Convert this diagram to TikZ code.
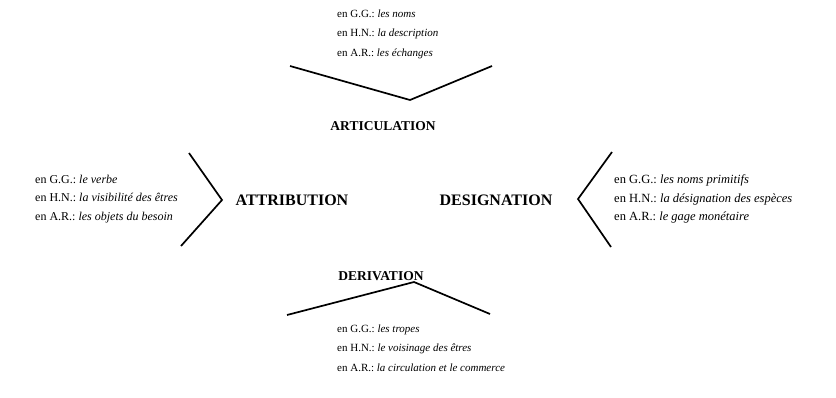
\documentclass[tikz,border=0pt]{standalone}
\usepackage{fontspec}
\setmainfont{Liberation Serif}
\begin{document}
\begin{tikzpicture}[x=1pt,y=-1pt,
    lines/.style={align=left, anchor=west, inner sep=0pt, font=\fontsize{11}{19.5}\selectfont},
    sidelines/.style={lines, font=\fontsize{12}{18.5}\selectfont},
    sidelabel/.style={inner sep=0pt, font=\fontsize{16}{18}\selectfont\bfseries},
    axislabel/.style={inner sep=0pt, font=\fontsize{13.5}{16}\selectfont\bfseries},
    chevron/.style={line width=1.7pt, line join=miter}]
    \useasboundingbox (0,0) rectangle (836,397);

    % Top: articulation
    \node[lines] (topnote) at (337,34) {en G.G.:~\textit{les noms}\\ en H.N.:~\textit{la description}\\ en A.R.:~\textit{les échanges}};
    \coordinate (topA) at (290,66);
    \coordinate (topV) at (410,100);
    \coordinate (topB) at (492,66);
    \draw[chevron] (topA) -- (topV) -- (topB);
    \node[axislabel] (articulation) at (383,126) {ARTICULATION};

    % Left: attribution
    \node[sidelines] (leftnote) at (35,199) {en G.G.:~\textit{le verbe}\\ en H.N.:~\textit{la visibilité des êtres}\\ en A.R.:~\textit{les objets du besoin}};
    \coordinate (leftA) at (189,153);
    \coordinate (leftV) at (222,200);
    \coordinate (leftB) at (181,246);
    \draw[chevron] (leftA) -- (leftV) -- (leftB);
    \node[sidelabel] (attribution) at (292,200) {ATTRIBUTION};

    % Right: designation
    \node[sidelabel] (designation) at (496,200) {DESIGNATION};
    \coordinate (rightA) at (612,152);
    \coordinate (rightV) at (578,199);
    \coordinate (rightB) at (611,247);
    \draw[chevron] (rightA) -- (rightV) -- (rightB);
    \node[sidelines, font=\fontsize{12.5}{18.5}\selectfont] (rightnote) at (614,199) {en G.G.:~\textit{les noms primitifs}\\ en H.N.:~\textit{la désignation des espèces}\\ en A.R.:~\textit{le gage monétaire}};

    % Bottom: derivation
    \node[axislabel] (derivation) at (381,276) {DERIVATION};
    \coordinate (botA) at (287,315);
    \coordinate (botV) at (414,282);
    \coordinate (botB) at (490,314);
    \draw[chevron] (botA) -- (botV) -- (botB);
    \node[lines] (botnote) at (337,348) {en G.G.:~\textit{les tropes}\\ en H.N.:~\textit{le voisinage des êtres}\\ en A.R.:~\textit{la circulation et le commerce}};
\end{tikzpicture}
\end{document}
